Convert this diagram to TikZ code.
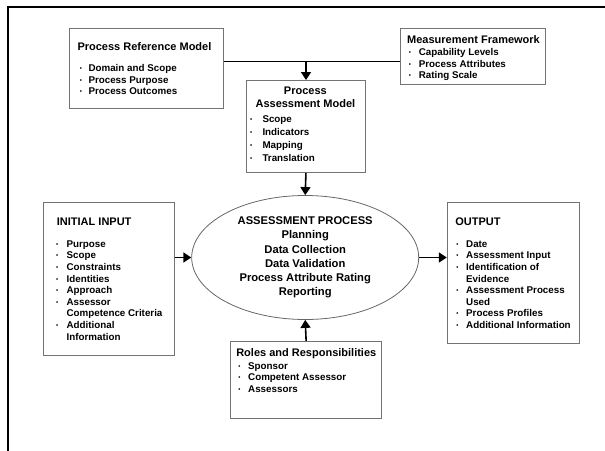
\documentclass[tikz,border=0pt]{standalone}
\usepackage{fontspec}
\setmainfont{Liberation Sans}
\usetikzlibrary{shapes.geometric,arrows.meta}

\newcommand{\itemfont}{\fontsize{9.8}{11.6}\selectfont\bfseries}
\newcommand{\bul}{\raisebox{1pt}{\fontsize{6}{6}\selectfont\textbullet}}

\begin{document}
\begin{tikzpicture}[x=1pt,y=-1pt,
       box/.style={draw=black!55,line width=1.1pt,anchor=north west,inner sep=0pt},
       head/.style={anchor=base west,inner sep=0pt,font=\fontsize{11}{12.6}\selectfont\bfseries},
       list/.style={anchor=base west,inner sep=0pt,font=\itemfont},
       link/.style={line width=1.6pt,-{Triangle[width=10pt,length=8pt]}}]
    \useasboundingbox (0,0) rectangle (605,450);
    \draw[line width=2pt] (8,460) |- (615,6.5);
    % boxes
    \node[box,minimum width=154,minimum height=79.6] (prm) at (69,28.2) {};
    \node[box,minimum width=144.4,minimum height=56.3] (mf) at (400.1,28) {};
    \node[box,minimum width=119.2,minimum height=91.7] (pam) at (245.8,80) {};
    \node[box,minimum width=131,minimum height=153.3] (ii) at (42.6,201.7) {};
    \node[box,minimum width=131.9,minimum height=141] (out) at (446.8,201.7) {};
    \node[box,minimum width=151.2,minimum height=76.6] (roles) at (230,341.2) {};
    \node[draw=black!60,line width=0.8pt,ellipse,minimum width=227,minimum height=124,
          inner sep=0pt,align=center,font=\fontsize{11.2}{14.2}\selectfont\bfseries] (ap) at (305.2,257.5)
      {ASSESSMENT PROCESS\\Planning\\Data Collection\\Data Validation\\Process Attribute Rating\\Reporting};
    % texts
    \node[head] (prmh) at (77.3,50.6) {Process Reference Model};
    \node[list] (prml) at (79.6,71.6) {\begin{tabular}[t]{@{}l@{\hspace{6.6pt}}l@{}}
      \bul & Domain and Scope\\
      \bul & Process Purpose\\
      \bul & Process Outcomes
    \end{tabular}};
    \node[head] (mfh) at (407,43.2) {Measurement Framework};
    \node[list] (mfl) at (408.6,55.6) {\begin{tabular}[t]{@{}l@{\hspace{7.9pt}}l@{}}
      \bul & Capability Levels\\
      \bul & Process Attributes\\
      \bul & Rating Scale
    \end{tabular}};
    \node[head,anchor=base] (pamh) at (305.4,94.6) {\begin{tabular}[t]{@{}c@{}}
      Process\\Assessment Model
    \end{tabular}};
    \node[list,font=\fontsize{9.8}{13.1}\selectfont\bfseries] (paml) at (250,122.3) {\begin{tabular}[t]{@{}l@{\hspace{10.2pt}}l@{}}
      \bul & Scope\\
      \bul & Indicators\\
      \bul & Mapping\\
      \bul & Translation
    \end{tabular}};
    \node[head] (iih) at (56.7,225) {INITIAL INPUT};
    \node[list] (iil) at (56,247.3) {\begin{tabular}[t]{@{}l@{\hspace{8.3pt}}l@{}}
      \bul & Purpose\\
      \bul & Scope\\
      \bul & Constraints\\
      \bul & Identities\\
      \bul & Approach\\
      \bul & Assessor\\
           & Competence Criteria\\
      \bul & Additional\\
           & Information
    \end{tabular}};
    \node[head] (outh) at (455.2,225) {OUTPUT};
    \node[list] (outl) at (456.1,247.3) {\begin{tabular}[t]{@{}l@{\hspace{7.8pt}}l@{}}
      \bul & Date\\
      \bul & Assessment Input\\
      \bul & Identification of\\
           & Evidence\\
      \bul & Assessment Process\\
           & Used\\
      \bul & Process Profiles\\
      \bul & Additional Information
    \end{tabular}};
    \node[head] (rolesh) at (236.1,356.6) {Roles and Responsibilities};
    \node[list] (rolesl) at (238.1,369) {\begin{tabular}[t]{@{}l@{\hspace{7.8pt}}l@{}}
      \bul & Sponsor\\
      \bul & Competent Assessor\\
      \bul & Assessors
    \end{tabular}};
    % connectors
    \coordinate (join) at (306,61.7);
    \draw[line width=1.2pt] (prm.east |- join) -- (mf.west |- join);
    \draw[link] (join) -- (join |- pam.north);
    \draw[link] (pam.south) -- (ap.north);
    \draw[link] (ii.east |- ap.west) -- (ap.west);
    \draw[link] (ap.east) -- (out.west |- ap.east);
    \draw[link] (roles.north) -- (ap.south);
\end{tikzpicture}
\end{document}
